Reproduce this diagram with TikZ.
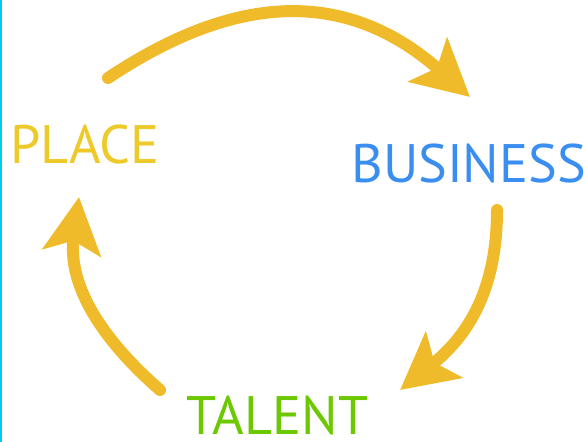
\documentclass[tikz,border=0pt]{standalone}
\usepackage{fontspec}
\setmainfont{PT Sans}
\usetikzlibrary{arrows.meta}

\definecolor{placeyellow}{RGB}{238,201,42}
\definecolor{businessblue}{RGB}{58,142,240}
\definecolor{talentgreen}{RGB}{108,200,0}
\definecolor{arrowgold}{RGB}{240,187,42}
\definecolor{edgecyan}{RGB}{0,200,240}

\begin{document}
\begin{tikzpicture}[
    x=0.5pt, y=-0.5pt,
    lbl/.style={inner sep=0pt, anchor=base west, font=\fontsize{27.1}{30}\selectfont},
    arr/.style={-{Stealth[length=28pt, width=29pt, inset=6pt]}, line width=6pt, line cap=round, draw=arrowgold, fill=none},
]
\useasboundingbox (0,0) rectangle (587,442);
\draw[edgecyan, line width=1pt] (0.5,0) -- (0.5,442);

\node[lbl, text=placeyellow]  (place)    at ( 10,164) {PLACE};
\node[lbl, text=businessblue] (business) at (351,183) {BUSINESS};
\node[lbl, text=talentgreen]  (talent)   at (186,434) {TALENT};

% arrow ends
\coordinate (topstart)   at (108, 78);
\coordinate (toptip)     at (470, 97);
\coordinate (rightstart) at (497,210);
\coordinate (righttip)   at (400,390);
\coordinate (leftstart)  at (160,390);
\coordinate (lefttip)    at ( 79,197);

% place -> business
\draw[arr] (topstart) .. controls (219,4) and (335,-22) .. (toptip);
% business -> talent
\draw[arr] (rightstart) .. controls (497,264) and (484,323) .. (righttip);
% talent -> place
\draw[arr] (leftstart) .. controls (106,343) and (67,288) .. (lefttip);

\end{tikzpicture}
\end{document}
